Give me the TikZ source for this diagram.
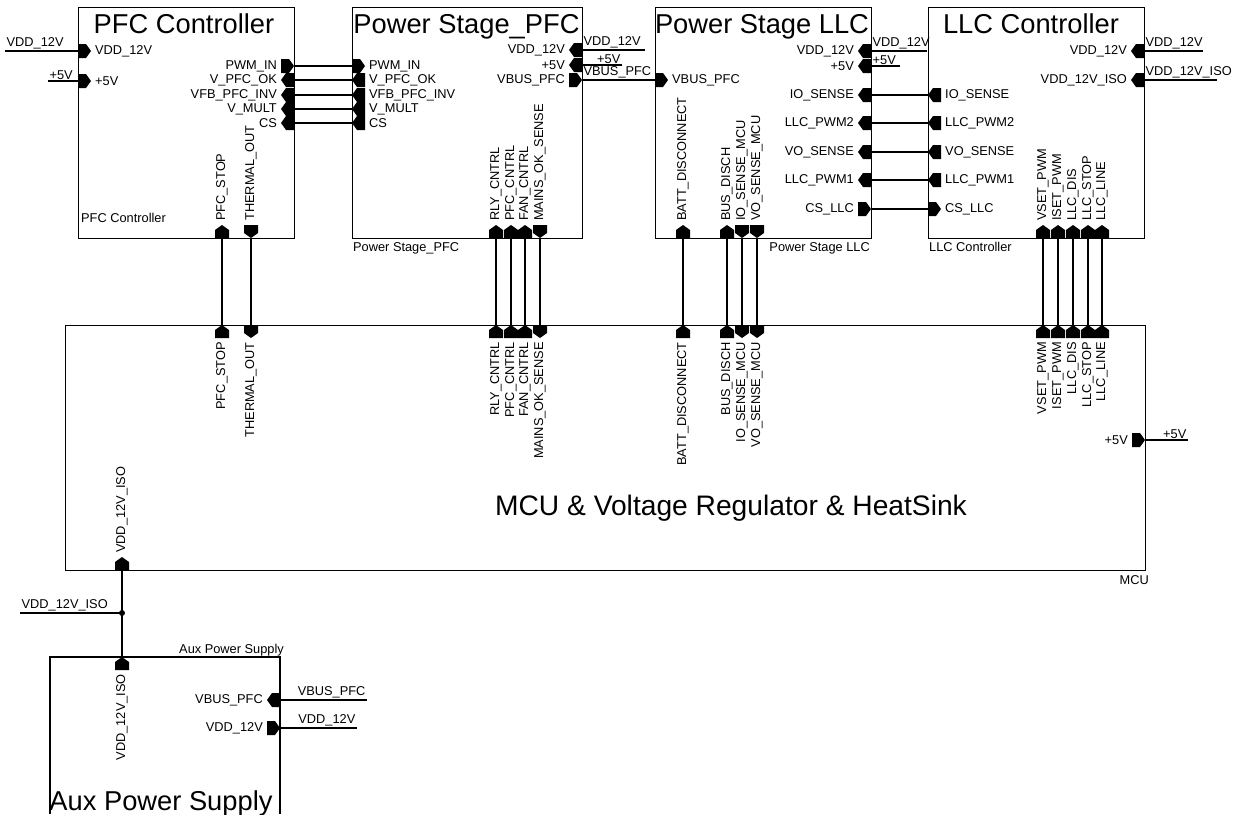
\documentclass[tikz,border=0pt]{standalone}
\usepackage{fontspec}
\setmainfont{Liberation Sans}
\usepackage{tikz}
\usetikzlibrary{arrows.meta,positioning}

\begin{document}
\begin{tikzpicture}[x=1pt,y=-1pt]
\tikzstyle{block}=[draw,line width=1.3pt,anchor=north west,inner sep=0pt]
\tikzstyle{wire}=[line width=1.3pt]
\tikzstyle{bigtitle}=[font=\fontsize{27.3}{30}\selectfont,anchor=base,inner sep=0pt]
\tikzstyle{lbl}=[font=\fontsize{12.8}{14}\selectfont,inner sep=1pt]
\tikzstyle{lblE}=[lbl,anchor=east]
\tikzstyle{lblW}=[lbl,anchor=west]
\tikzstyle{lblU}=[lbl,rotate=90,anchor=west]
\tikzstyle{lblD}=[lbl,rotate=90,anchor=east]
\newcommand{\portin}[6]{%
\coordinate (#1) at (#2,#3);
\fill[shift={(#2,#3)},rotate=#4] (0,-7) -- (-8,-7) -- (-13,0) -- (-8,7) -- (0,7) -- cycle;
\path[shift={(#2,#3)},rotate=#4] (-16,0) node[#5] (#1-l) {#6};
}
\newcommand{\portout}[6]{%
\coordinate (#1) at (#2,#3);
\fill[shift={(#2,#3)},rotate=#4] (-13,-7) -- (-5,-7) -- (0,0) -- (-5,7) -- (-13,7) -- cycle;
\path[shift={(#2,#3)},rotate=#4] (-16,0) node[#5] (#1-l) {#6};
}
\useasboundingbox (0,0) rectangle (1244,814);

% blocks
\node[block,minimum width=216pt,minimum height=231pt] (pfc) at (78,7) {};
\node[block,minimum width=230pt,minimum height=231pt] (psp) at (352,7) {};
\node[block,minimum width=216pt,minimum height=231pt] (psl) at (655,7) {};
\node[block,minimum width=216pt,minimum height=231pt] (llc) at (928,7) {};
\node[block,minimum width=1080pt,minimum height=245pt] (mcu) at (65,325) {};
\draw[wire] (50,814) -- (50,657) -- (280,657) -- (280,814);

\node[bigtitle] (pfc-t) at (184,33) {PFC Controller};
\node[bigtitle] (psp-t) at (466.5,33) {Power Stage\_PFC};
\node[bigtitle] (psl-t) at (762,33) {Power Stage LLC};
\node[bigtitle] (llc-t) at (1031,33) {LLC Controller};
\node[bigtitle,font=\fontsize{28.2}{30}\selectfont] (mcu-t) at (731,515) {MCU \& Voltage Regulator \& HeatSink};
\node[bigtitle] (aux-t) at (161,810) {Aux Power Supply};

\node[lbl,anchor=base west] (pfc-n) at (80,222) {PFC Controller};
\node[lbl,anchor=base west] (psp-n) at (352,251) {Power Stage\_PFC};
\node[lbl,anchor=base east] (psl-n) at (871,251) {Power Stage LLC};
\node[lbl,anchor=base west] (llc-n) at (928,251) {LLC Controller};
\node[lbl,anchor=base east] (mcu-n) at (1150,584) {MCU};
\node[lbl,anchor=base east] (aux-n) at (285,653) {Aux Power Supply};

% PFC Controller
\portin{pfc-vdd}{78}{51}{180}{lblW}{VDD\_12V}
\portin{pfc-5v}{78}{81}{180}{lblW}{+5V}
\portout{pfc-pwm}{294}{66}{0}{lblE}{PWM\_IN}
\portin{pfc-ok}{294}{80}{0}{lblE}{V\_PFC\_OK}
\portin{pfc-vfb}{294}{95}{0}{lblE}{VFB\_PFC\_INV}
\portin{pfc-mult}{294}{109}{0}{lblE}{V\_MULT}
\portin{pfc-cs}{294}{123}{0}{lblE}{CS}
\portin{pfc-stop}{222}{238}{-90}{lblU}{PFC\_STOP}
\portout{pfc-therm}{251}{238}{-90}{lblU}{THERMAL\_OUT}

% Power Stage_PFC
\portin{psp-pwm}{352}{66}{180}{lblW}{PWM\_IN}
\portout{psp-ok}{352}{80}{180}{lblW}{V\_PFC\_OK}
\portout{psp-vfb}{352}{95}{180}{lblW}{VFB\_PFC\_INV}
\portout{psp-mult}{352}{109}{180}{lblW}{V\_MULT}
\portout{psp-cs}{352}{123}{180}{lblW}{CS}
\portin{psp-vdd}{582}{50}{0}{lblE}{VDD\_12V}
\portin{psp-5v}{582}{65}{0}{lblE}{+5V}
\portout{psp-vbus}{582}{80}{0}{lblE}{VBUS\_PFC}
\portin{psp-rly}{496}{238}{-90}{lblU}{RLY\_CNTRL}
\portin{psp-pfc}{511}{238}{-90}{lblU}{PFC\_CNTRL}
\portin{psp-fan}{525}{238}{-90}{lblU}{FAN\_CNTRL}
\portout{psp-mains}{540}{238}{-90}{lblU}{MAINS\_OK\_SENSE}

% Power Stage LLC
\portin{psl-vbus}{655}{80}{180}{lblW}{VBUS\_PFC}
\portin{psl-vdd}{871}{51}{0}{lblE}{VDD\_12V}
\portin{psl-5v}{871}{66}{0}{lblE}{+5V}
\portin{psl-io}{871}{95}{0}{lblE}{IO\_SENSE}
\portin{psl-pwm2}{871}{123}{0}{lblE}{LLC\_PWM2}
\portin{psl-vo}{871}{152}{0}{lblE}{VO\_SENSE}
\portin{psl-pwm1}{871}{180}{0}{lblE}{LLC\_PWM1}
\portout{psl-cs}{871}{209}{0}{lblE}{CS\_LLC}
\portin{psl-batt}{683}{238}{-90}{lblU}{BATT\_DISCONNECT}
\portin{psl-disch}{727}{238}{-90}{lblU}{BUS\_DISCH}
\portout{psl-iom}{742}{238}{-90}{lblU}{IO\_SENSE\_MCU}
\portout{psl-vom}{757}{238}{-90}{lblU}{VO\_SENSE\_MCU}

% LLC Controller
\portout{llc-io}{928}{95}{180}{lblW}{IO\_SENSE}
\portout{llc-pwm2}{928}{123}{180}{lblW}{LLC\_PWM2}
\portout{llc-vo}{928}{152}{180}{lblW}{VO\_SENSE}
\portout{llc-pwm1}{928}{180}{180}{lblW}{LLC\_PWM1}
\portin{llc-cs}{928}{209}{180}{lblW}{CS\_LLC}
\portin{llc-vdd}{1144}{51}{0}{lblE}{VDD\_12V}
\portin{llc-iso}{1144}{80}{0}{lblE}{VDD\_12V\_ISO}
\portin{llc-vset}{1043}{238}{-90}{lblU}{VSET\_PWM}
\portin{llc-iset}{1058}{238}{-90}{lblU}{ISET\_PWM}
\portin{llc-dis}{1073}{238}{-90}{lblU}{LLC\_DIS}
\portin{llc-stop}{1088}{238}{-90}{lblU}{LLC\_STOP}
\portin{llc-line}{1102}{238}{-90}{lblU}{LLC\_LINE}

% MCU
\portout{mcu-stop}{222}{325}{90}{lblD}{PFC\_STOP}
\portin{mcu-therm}{251}{325}{90}{lblD}{THERMAL\_OUT}
\portout{mcu-rly}{496}{325}{90}{lblD}{RLY\_CNTRL}
\portout{mcu-pfc}{511}{325}{90}{lblD}{PFC\_CNTRL}
\portout{mcu-fan}{525}{325}{90}{lblD}{FAN\_CNTRL}
\portin{mcu-mains}{540}{325}{90}{lblD}{MAINS\_OK\_SENSE}
\portout{mcu-batt}{683}{325}{90}{lblD}{BATT\_DISCONNECT}
\portout{mcu-disch}{727}{325}{90}{lblD}{BUS\_DISCH}
\portin{mcu-iom}{742}{325}{90}{lblD}{IO\_SENSE\_MCU}
\portin{mcu-vom}{757}{325}{90}{lblD}{VO\_SENSE\_MCU}
\portout{mcu-vset}{1043}{325}{90}{lblD}{VSET\_PWM}
\portout{mcu-iset}{1058}{325}{90}{lblD}{ISET\_PWM}
\portout{mcu-dis}{1073}{325}{90}{lblD}{LLC\_DIS}
\portout{mcu-stop2}{1088}{325}{90}{lblD}{LLC\_STOP}
\portout{mcu-line}{1102}{325}{90}{lblD}{LLC\_LINE}
\portout{mcu-5v}{1145}{440}{0}{lblE}{+5V}
\portin{mcu-iso}{122}{570}{-90}{lblU}{VDD\_12V\_ISO}

% Aux Power Supply
\portout{aux-iso}{122}{657}{90}{lblD}{VDD\_12V\_ISO}
\portin{aux-vbus}{280}{700}{0}{lblE}{VBUS\_PFC}
\portout{aux-vdd}{280}{728}{0}{lblE}{VDD\_12V}

% wires between blocks
\foreach \a/\b in {pfc-pwm/psp-pwm,pfc-ok/psp-ok,pfc-vfb/psp-vfb,pfc-mult/psp-mult,pfc-cs/psp-cs,
  psl-io/llc-io,psl-pwm2/llc-pwm2,psl-vo/llc-vo,psl-pwm1/llc-pwm1,psl-cs/llc-cs,
  pfc-stop/mcu-stop,pfc-therm/mcu-therm,psp-rly/mcu-rly,psp-pfc/mcu-pfc,psp-fan/mcu-fan,psp-mains/mcu-mains,
  psl-batt/mcu-batt,psl-disch/mcu-disch,psl-iom/mcu-iom,psl-vom/mcu-vom,
  llc-vset/mcu-vset,llc-iset/mcu-iset,llc-dis/mcu-dis,llc-stop/mcu-stop2,llc-line/mcu-line}
  \draw[wire] (\a) -- (\b);
\draw[wire] (psp-vbus) node[lbl,anchor=south west] (vbus-w) {VBUS\_PFC} -- (psl-vbus);

% net stubs
\coordinate (pfc-vdd-n) at (5,51);
\coordinate (pfc-5v-n) at (48,81);
\coordinate (psp-vdd-n) at (645,50);
\coordinate (psp-5v-n) at (622,65);
\coordinate (psl-vdd-n) at (927,51);
\coordinate (psl-5v-n) at (900,66);
\coordinate (llc-vdd-n) at (1203,51);
\coordinate (llc-iso-n) at (1217,80);
\coordinate (mcu-5v-n) at (1188,440);
\coordinate (aux-vbus-n) at (367,700);
\coordinate (aux-vdd-n) at (357,728);
\coordinate (jn) at (122,613);
\coordinate (jn-n) at (20,613);
\draw[wire] (pfc-vdd) -- (pfc-vdd-n) node[lbl,anchor=south west] (n1) {VDD\_12V};
\draw[wire] (pfc-5v) -- (pfc-5v-n) node[lbl,anchor=south west] (n2) {+5V};
\draw[wire] (psp-vdd) node[lbl,anchor=south west] (n3) {VDD\_12V} -- (psp-vdd-n);
\draw[wire] (psp-5v) -- (psp-5v-n) node[lbl,anchor=south east] (n4) {+5V};
\draw[wire] (psl-vdd) node[lbl,anchor=south west] (n5) {VDD\_12V} -- (psl-vdd-n);
\draw[wire] (psl-5v) node[lbl,anchor=south west] (n6) {+5V} -- (psl-5v-n);
\draw[wire] (llc-vdd) node[lbl,anchor=south west] (n7) {VDD\_12V} -- (llc-vdd-n);
\draw[wire] (llc-iso) node[lbl,anchor=south west] (n8) {VDD\_12V\_ISO} -- (llc-iso-n);
\draw[wire] (mcu-5v) -- (mcu-5v-n) node[lbl,anchor=south east] (n9) {+5V};
\draw[wire] (aux-vbus) -- (aux-vbus-n) node[lbl,anchor=south east] (n10) {VBUS\_PFC};
\draw[wire] (aux-vdd) -- (aux-vdd-n) node[lbl,anchor=south east] (n11) {VDD\_12V};
\draw[wire] (mcu-iso) -- (jn) -- (aux-iso);
\fill (jn) circle (3);
\draw[wire] (jn) -- (jn-n) node[lbl,anchor=south west] (n12) {VDD\_12V\_ISO};
\end{tikzpicture}
\end{document}
